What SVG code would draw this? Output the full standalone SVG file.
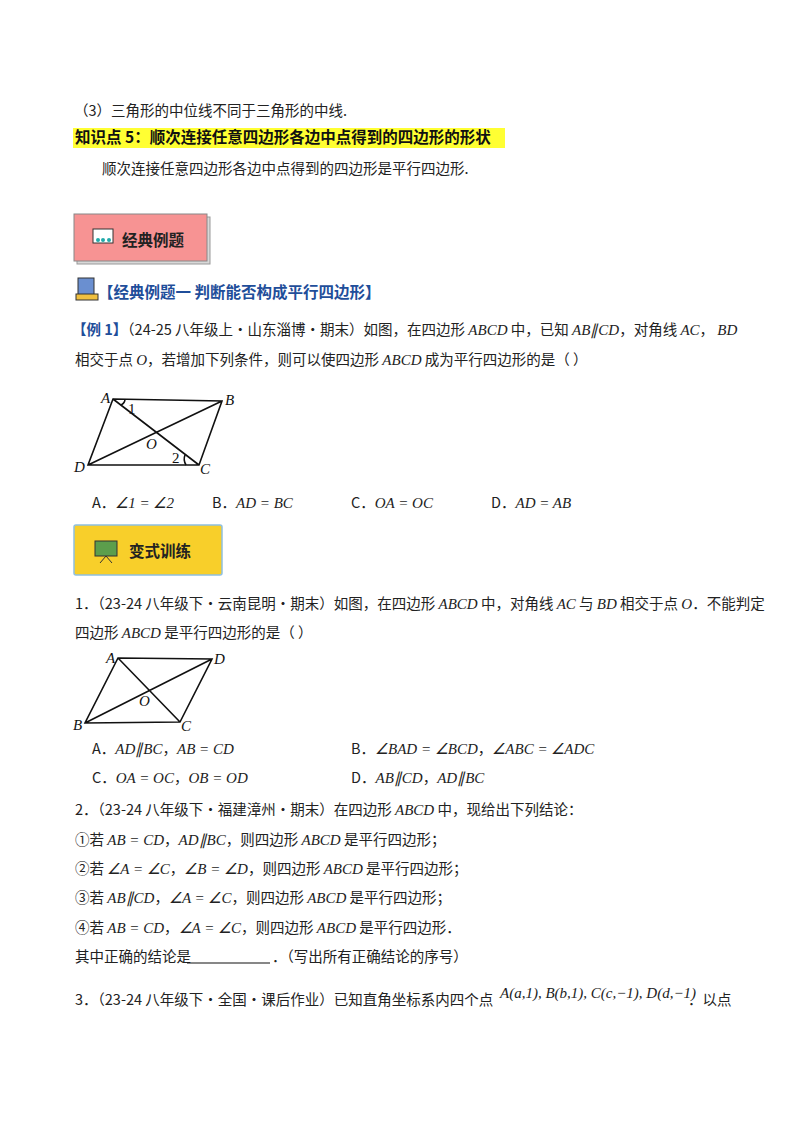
<svg xmlns="http://www.w3.org/2000/svg" width="800" height="1132" viewBox="0 0 800 1132">
<style>
.t{font-family:"Noto Sans CJK SC",sans-serif;font-size:14.5px;fill:#222}
.b{font-family:"Noto Sans CJK SC",sans-serif;font-weight:bold;font-size:15.5px}
.m{font-family:"Liberation Serif",serif;font-style:italic;font-size:15px;fill:#222}
.ml{font-family:"Liberation Serif",serif;font-style:italic;font-size:15px;fill:#111}
.n{font-family:"Liberation Serif",serif;font-size:15px;fill:#111}
.fig{stroke:#111;stroke-width:1.6;fill:none}
</style>
<rect width="800" height="1132" fill="#fff"/>
<text class="t" x="74" y="116">（3）三角形的中位线不同于三角形的中线.</text>
<rect x="73" y="128" width="432" height="20" fill="#ffff33"/>
<text class="b" x="75" y="143" fill="#111">知识点 5：顺次连接任意四边形各边中点得到的四边形的形状</text>
<text class="t" x="102" y="174">顺次连接任意四边形各边中点得到的四边形是平行四边形.</text>
<g id="badge1">
<rect x="77" y="217" width="133" height="47" fill="#d8d8d8" stroke="#999"/>
<rect x="74" y="214" width="133" height="47" fill="#f79393" stroke="#888"/>
<rect x="93" y="229" width="20" height="14" fill="#fff" stroke="#333"/>
<circle cx="98" cy="240" r="2" fill="#2aa"/><circle cx="103" cy="240" r="2" fill="#2aa"/><circle cx="109" cy="240" r="2" fill="#2aa"/>
<text class="b" x="122" y="246" font-size="17" fill="#222">经典例题</text>
</g>
<g id="head1">
<rect x="78" y="278" width="16" height="18" fill="#6a8fd0" stroke="#333"/>
<rect x="76" y="294" width="22" height="6" fill="#f0c040" stroke="#333"/>
<text class="b" x="98" y="298" fill="#1f4e9a" font-size="14">【经典例题一  判断能否构成平行四边形】</text>
</g>
<text class="t" x="72" y="335"><tspan fill="#1f4e9a" font-weight="bold">【例 1】</tspan>（24-25 八年级上·山东淄博·期末）如图，在四边形 <tspan class="m">ABCD</tspan> 中，已知 <tspan class="m">AB∥CD</tspan>，对角线 <tspan class="m">AC</tspan>， <tspan class="m">BD</tspan></text>
<text class="t" x="75" y="365">相交于点 <tspan class="m" font-size="17">O</tspan>，若增加下列条件，则可以使四边形 <tspan class="m">ABCD</tspan> 成为平行四边形的是（    ）</text>
<g id="fig1">
<path class="fig" d="M113 399 L222 401 L199 465 L88 465 Z M113 399 L199 465 M88 465 L222 401"/>
<path class="fig" stroke-width="1" d="M121 405 Q125 403 125 399 M185 455 Q183 460 186 465"/>
<text class="ml" x="101" y="403">A</text><text class="ml" x="225" y="405">B</text>
<text class="ml" x="74" y="472">D</text><text class="ml" x="200" y="474">C</text>
<text class="ml" x="146" y="449">O</text>
<text class="n" x="128" y="414">1</text><text class="n" x="172" y="463">2</text>
</g>
<text class="t" x="92" y="508">A．<tspan class="m">∠1 = ∠2</tspan></text>
<text class="t" x="212" y="508">B．<tspan class="m">AD = BC</tspan></text>
<text class="t" x="351" y="508">C．<tspan class="m">OA = OC</tspan></text>
<text class="t" x="491" y="508">D．<tspan class="m">AD = AB</tspan></text>
<g id="badge2">
<rect x="74" y="525" width="148" height="50" fill="#f8cf2a" stroke="#8fc0e0" stroke-width="1.5" rx="2"/>
<rect x="95" y="541" width="22" height="15" fill="#5c9e4c" stroke="#333"/>
<path d="M106 556 L100 563 M106 556 L112 563" stroke="#333"/>
<text class="b" x="129" y="557" font-size="17" fill="#222">变式训练</text>
</g>
<text class="t" x="75" y="609">1．（23-24 八年级下·云南昆明·期末）如图，在四边形 <tspan class="m">ABCD</tspan> 中，对角线 <tspan class="m">AC</tspan> 与 <tspan class="m">BD</tspan> 相交于点 <tspan class="m" font-size="17">O</tspan>．不能判定</text>
<text class="t" x="75" y="638">四边形 <tspan class="m">ABCD</tspan> 是平行四边形的是（    ）</text>
<g id="fig2">
<path class="fig" d="M118 658 L212 659 L180 722 L85 723 Z M118 658 L180 722 M85 723 L212 659"/>
<text class="ml" x="106" y="663">A</text><text class="ml" x="214" y="664">D</text>
<text class="ml" x="73" y="730">B</text><text class="ml" x="181" y="731">C</text>
<text class="ml" x="139" y="706">O</text>
</g>
<text class="t" x="92" y="754">A．<tspan class="m">AD∥BC</tspan>，<tspan class="m">AB = CD</tspan></text>
<text class="t" x="351" y="754">B．<tspan class="m">∠BAD = ∠BCD</tspan>，<tspan class="m">∠ABC = ∠ADC</tspan></text>
<text class="t" x="92" y="783">C．<tspan class="m">OA = OC</tspan>，<tspan class="m">OB = OD</tspan></text>
<text class="t" x="351" y="783">D．<tspan class="m">AB∥CD</tspan>，<tspan class="m">AD∥BC</tspan></text>
<text class="t" x="75" y="815">2．（23-24 八年级下·福建漳州·期末）在四边形 <tspan class="m">ABCD</tspan> 中，现给出下列结论：</text>
<text class="t" x="75" y="845">①若 <tspan class="m">AB = CD</tspan>，<tspan class="m">AD∥BC</tspan>，则四边形 <tspan class="m">ABCD</tspan> 是平行四边形；</text>
<text class="t" x="75" y="874">②若 <tspan class="m">∠A = ∠C</tspan>，<tspan class="m">∠B = ∠D</tspan>，则四边形 <tspan class="m">ABCD</tspan> 是平行四边形；</text>
<text class="t" x="75" y="903">③若 <tspan class="m">AB∥CD</tspan>，<tspan class="m">∠A = ∠C</tspan>，则四边形 <tspan class="m">ABCD</tspan> 是平行四边形；</text>
<text class="t" x="75" y="933">④若 <tspan class="m">AB = CD</tspan>，<tspan class="m">∠A = ∠C</tspan>，则四边形 <tspan class="m">ABCD</tspan> 是平行四边形．</text>
<text class="t" x="75" y="962">其中正确的结论是</text>
<line x1="187" y1="963" x2="270" y2="963" stroke="#111" stroke-width="1.2"/>
<text class="t" x="272" y="962">．（写出所有正确结论的序号）</text>
<text class="t" x="75" y="1005">3．（23-24 八年级下·全国·课后作业）已知直角坐标系内四个点</text>
<text class="m" x="500" y="998" font-size="16">A(a,1), B(b,1), C(c,−1), D(d,−1)</text>
<text class="t" x="688" y="1005">．以点</text>
</svg>
